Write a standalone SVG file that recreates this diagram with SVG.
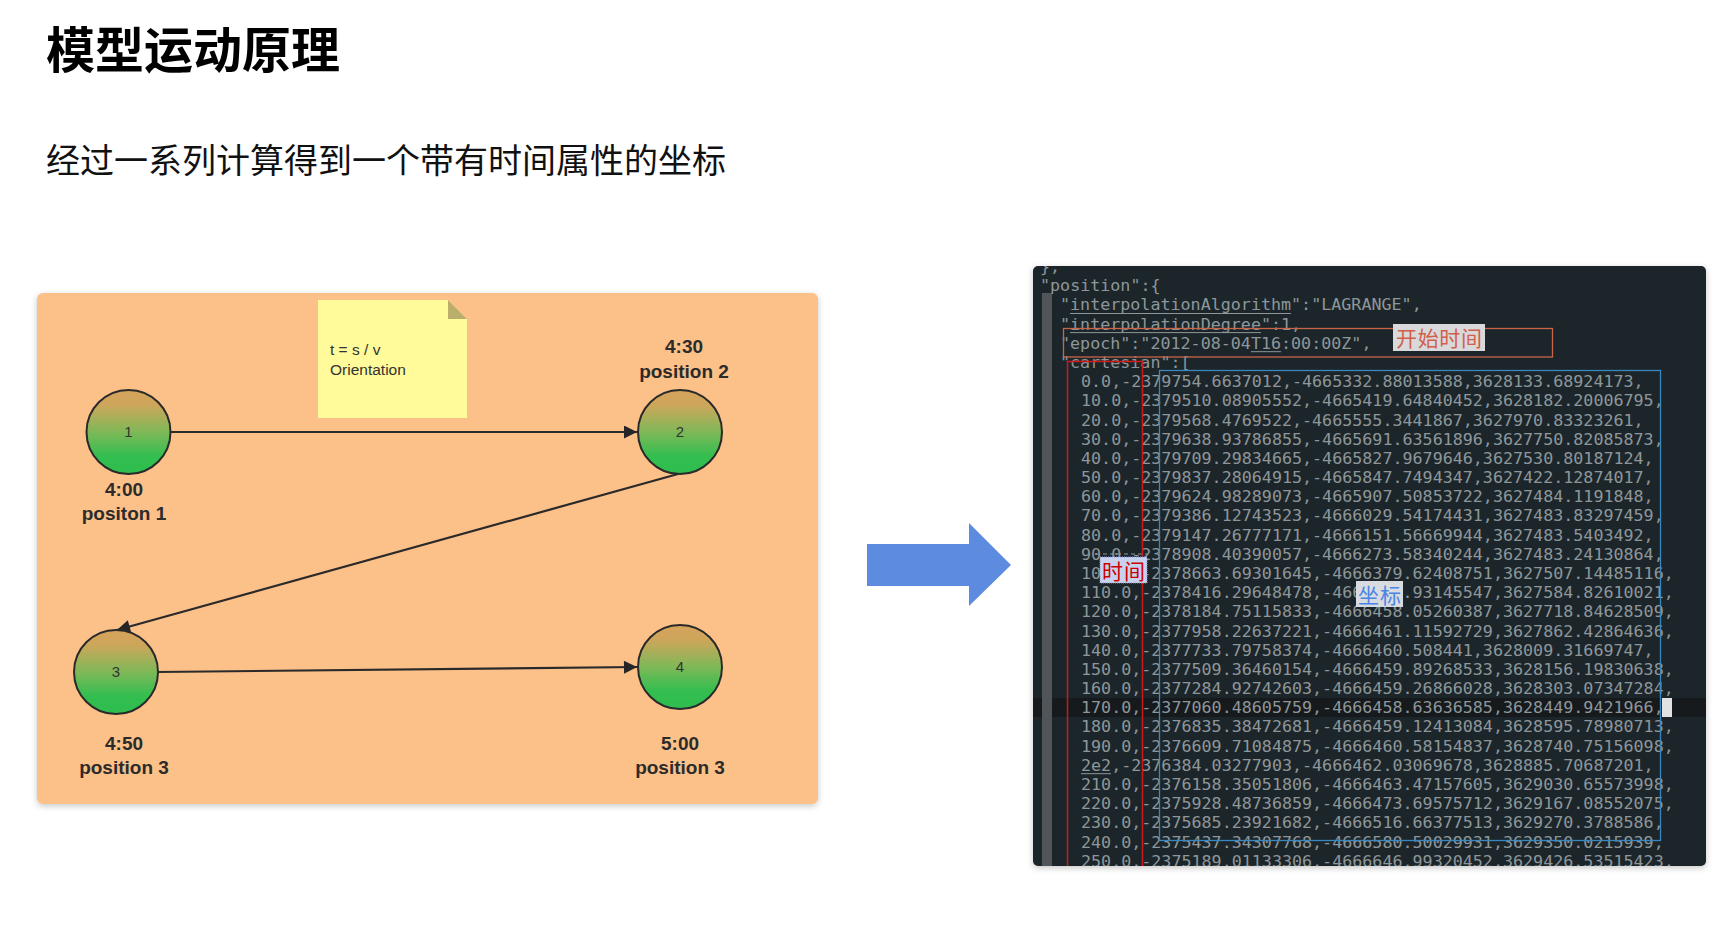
<svg xmlns="http://www.w3.org/2000/svg" width="1734" height="932" viewBox="0 0 1734 932">
<defs>
  <linearGradient id="nodeGrad" x1="0" y1="0" x2="0" y2="1">
    <stop offset="0" stop-color="#D6A35B"/>
    <stop offset="0.18" stop-color="#CDA65B"/>
    <stop offset="0.5" stop-color="#7FB857"/>
    <stop offset="0.78" stop-color="#34BE50"/>
    <stop offset="1" stop-color="#2DBD4E"/>
  </linearGradient>
  <marker id="arr" viewBox="0 0 10 10" refX="10" refY="5" orient="auto" markerUnits="userSpaceOnUse" markerWidth="19" markerHeight="13">
    <path d="M0,0 L10,5 L0,10 z" fill="#262626"/>
  </marker>
  <filter id="shadow" x="-5%" y="-5%" width="110%" height="110%">
    <feDropShadow dx="0" dy="2" stdDeviation="3" flood-color="#000" flood-opacity="0.22"/>
  </filter>
  <clipPath id="edClip"><rect x="1033" y="266" width="673" height="600" rx="5"/></clipPath>
</defs>
<style>
  .title { font-family: "Noto Sans CJK SC", "Noto Sans", sans-serif; font-weight: bold; font-size: 49px; fill: #000; }
  .sub { font-family: "Noto Sans CJK SC", "Noto Sans", sans-serif; font-size: 34px; fill: #111; }
  .lbl { font-family: "Liberation Sans", Arial, sans-serif; font-size: 19px; font-weight: bold; fill: #2b2b2b; text-anchor: middle; }
  .num { font-family: "Liberation Sans", Arial, sans-serif; font-size: 15px; fill: #333; text-anchor: middle; }
  .note { font-family: "Liberation Sans", Arial, sans-serif; font-size: 15.5px; fill: #333; }
  .node { fill: url(#nodeGrad); stroke: #2a2a2a; stroke-width: 2; }
  .conn { stroke: #2a2a2a; stroke-width: 2.2; fill: none; marker-end: url(#arr); }
  .code { font-family: "DejaVu Sans Mono", "Liberation Mono", monospace; font-size: 16.7px; fill: #8E969A; white-space: pre; }
  .ul { stroke: #8E969A; stroke-width: 1; }
  .cjk { font-family: "Noto Sans CJK SC", "Noto Sans", sans-serif; font-size: 21px; }
</style>

<rect width="1734" height="932" fill="#FFFFFF"/>

<g id="title">
  <text class="title" x="46" y="68">模型运动原理</text>
</g>
<g id="subtitle">
  <text class="sub" x="46" y="173">经过一系列计算得到一个带有时间属性的坐标</text>
</g>

<g id="panel">
  <rect x="37" y="293" width="781" height="511" rx="6" fill="#FCC089" filter="url(#shadow)"/>
</g>

<g id="note">
  <path d="M318,300 L448,300 L467,319 L467,418 L318,418 Z" fill="#FFFA9A"/>
  <path d="M448,300 L448,319 L467,319 Z" fill="#BBAE6C"/>
  <text class="note" x="330" y="355">t = s / v</text>
  <text class="note" x="330" y="375">Orientation</text>
</g>

<g id="connectors">
  <line class="conn" x1="171" y1="432" x2="637" y2="432"/>
  <line class="conn" x1="678" y1="474" x2="117" y2="630"/>
  <line class="conn" x1="158" y1="672" x2="637" y2="667"/>
</g>

<g id="node1">
  <circle class="node" cx="128.5" cy="432" r="42"/>
  <text class="num" x="128.5" y="437">1</text>
  <text class="lbl" x="124" y="496">4:00</text>
  <text class="lbl" x="124" y="520">positon 1</text>
</g>
<g id="node2">
  <circle class="node" cx="680" cy="432" r="42"/>
  <text class="num" x="680" y="437">2</text>
  <text class="lbl" x="684" y="353">4:30</text>
  <text class="lbl" x="684" y="378">position 2</text>
</g>
<g id="node3">
  <circle class="node" cx="116" cy="672" r="42"/>
  <text class="num" x="116" y="677">3</text>
  <text class="lbl" x="124" y="750">4:50</text>
  <text class="lbl" x="124" y="774">position 3</text>
</g>
<g id="node4">
  <circle class="node" cx="680" cy="667" r="42"/>
  <text class="num" x="680" y="672">4</text>
  <text class="lbl" x="680" y="750">5:00</text>
  <text class="lbl" x="680" y="774">position 3</text>
</g>

<g id="bigArrow">
  <path d="M867,544 L969,544 L969,523 L1011,565 L969,606 L969,586 L867,586 Z" fill="#5D8BDF"/>
</g>

<g id="editor">
  <rect x="1033" y="266" width="673" height="600" rx="5" fill="#1E262C" filter="url(#shadow)"/>
  <g clip-path="url(#edClip)">
    <rect x="1033" y="698" width="673" height="19" fill="#161A1D"/>
    <rect x="1042" y="293" width="10" height="573" fill="#50555A"/>
    <text class="code" x="1040" y="272.0">},</text>
    <text class="code" x="1040" y="291.2">"position":{</text>
    <text class="code" x="1060" y="310.4">"interpolationAlgorithm":"LAGRANGE",</text>
    <text class="code" x="1060" y="329.6">"interpolationDegree":1,</text>
    <text class="code" x="1060" y="348.7">"epoch":"2012-08-04T16:00:00Z",</text>
    <text class="code" x="1060" y="367.9">"cartesian":[</text>
    <text class="code" x="1081" y="387.1">0.0,-2379754.6637012,-4665332.88013588,3628133.68924173,</text>
    <text class="code" x="1081" y="406.3">10.0,-2379510.08905552,-4665419.64840452,3628182.20006795,</text>
    <text class="code" x="1081" y="425.5">20.0,-2379568.4769522,-4665555.3441867,3627970.83323261,</text>
    <text class="code" x="1081" y="444.6">30.0,-2379638.93786855,-4665691.63561896,3627750.82085873,</text>
    <text class="code" x="1081" y="463.8">40.0,-2379709.29834665,-4665827.9679646,3627530.80187124,</text>
    <text class="code" x="1081" y="483.0">50.0,-2379837.28064915,-4665847.7494347,3627422.12874017,</text>
    <text class="code" x="1081" y="502.2">60.0,-2379624.98289073,-4665907.50853722,3627484.1191848,</text>
    <text class="code" x="1081" y="521.4">70.0,-2379386.12743523,-4666029.54174431,3627483.83297459,</text>
    <text class="code" x="1081" y="540.6">80.0,-2379147.26777171,-4666151.56669944,3627483.5403492,</text>
    <text class="code" x="1081" y="559.7">90.0,-2378908.40390057,-4666273.58340244,3627483.24130864,</text>
    <text class="code" x="1081" y="578.9">100.0,-2378663.69301645,-4666379.62408751,3627507.14485116,</text>
    <text class="code" x="1081" y="598.1">110.0,-2378416.29648478,-4666494.93145547,3627584.82610021,</text>
    <text class="code" x="1081" y="617.3">120.0,-2378184.75115833,-4666458.05260387,3627718.84628509,</text>
    <text class="code" x="1081" y="636.5">130.0,-2377958.22637221,-4666461.11592729,3627862.42864636,</text>
    <text class="code" x="1081" y="655.6">140.0,-2377733.79758374,-4666460.508441,3628009.31669747,</text>
    <text class="code" x="1081" y="674.8">150.0,-2377509.36460154,-4666459.89268533,3628156.19830638,</text>
    <text class="code" x="1081" y="694.0">160.0,-2377284.92742603,-4666459.26866028,3628303.07347284,</text>
    <text class="code" x="1081" y="713.2">170.0,-2377060.48605759,-4666458.63636585,3628449.9421966,</text>
    <text class="code" x="1081" y="732.4">180.0,-2376835.38472681,-4666459.12413084,3628595.78980713,</text>
    <text class="code" x="1081" y="751.6">190.0,-2376609.71084875,-4666460.58154837,3628740.75156098,</text>
    <text class="code" x="1081" y="770.7">2e2,-2376384.03277903,-4666462.03069678,3628885.70687201,</text>
    <text class="code" x="1081" y="789.9">210.0,-2376158.35051806,-4666463.47157605,3629030.65573998,</text>
    <text class="code" x="1081" y="809.1">220.0,-2375928.48736859,-4666473.69575712,3629167.08552075,</text>
    <text class="code" x="1081" y="828.3">230.0,-2375685.23921682,-4666516.66377513,3629270.3788586,</text>
    <text class="code" x="1081" y="847.5">240.0,-2375437.34307768,-4666580.50029931,3629350.0215939,</text>
    <text class="code" x="1081" y="866.6">250.0,-2375189.01133306,-4666646.99320452,3629426.53515423,</text>
    <line class="ul" x1="1070" y1="313.5" x2="1291" y2="313.5"/>
    <line class="ul" x1="1070" y1="332.6" x2="1261" y2="332.6"/>
    <line class="ul" x1="1251" y1="351.7" x2="1281" y2="351.7"/>
    <line class="ul" x1="1081" y1="773.7" x2="1111" y2="773.7"/>
    <line class="ul" x1="1096" y1="554" x2="1148" y2="554" stroke-dasharray="4 3"/>
    <rect x="1662" y="698" width="10" height="19" fill="#E2E2E2"/>
    <rect x="1063.5" y="328.5" width="489" height="28.5" fill="none" stroke="#C8644A" stroke-width="1.3"/>
    <rect x="1067.5" y="361.5" width="75" height="520" fill="none" stroke="#CC1A1A" stroke-width="1.5"/>
    <rect x="1159.5" y="370.5" width="501" height="470" fill="none" stroke="#3A86BE" stroke-width="1.3"/>
  </g>
  <g id="label-start">
    <rect x="1393" y="324" width="92" height="27" fill="#D9D9DC"/>
    <text class="cjk" x="1396" y="346" fill="#D0604A" textLength="86">开始时间</text>
  </g>
  <g id="label-time">
    <rect x="1100" y="557" width="47" height="26" fill="#C8D2EE" stroke="#8A9BD0" stroke-width="1" stroke-dasharray="1 1"/>
    <text class="cjk" x="1102" y="579" fill="#CC0000" textLength="43">时间</text>
  </g>
  <g id="label-coord">
    <rect x="1356" y="581" width="47" height="26" fill="#D8DBE0"/>
    <text class="cjk" x="1358" y="603" fill="#4A84E4" textLength="43">坐标</text>
  </g>
</g>
</svg>
